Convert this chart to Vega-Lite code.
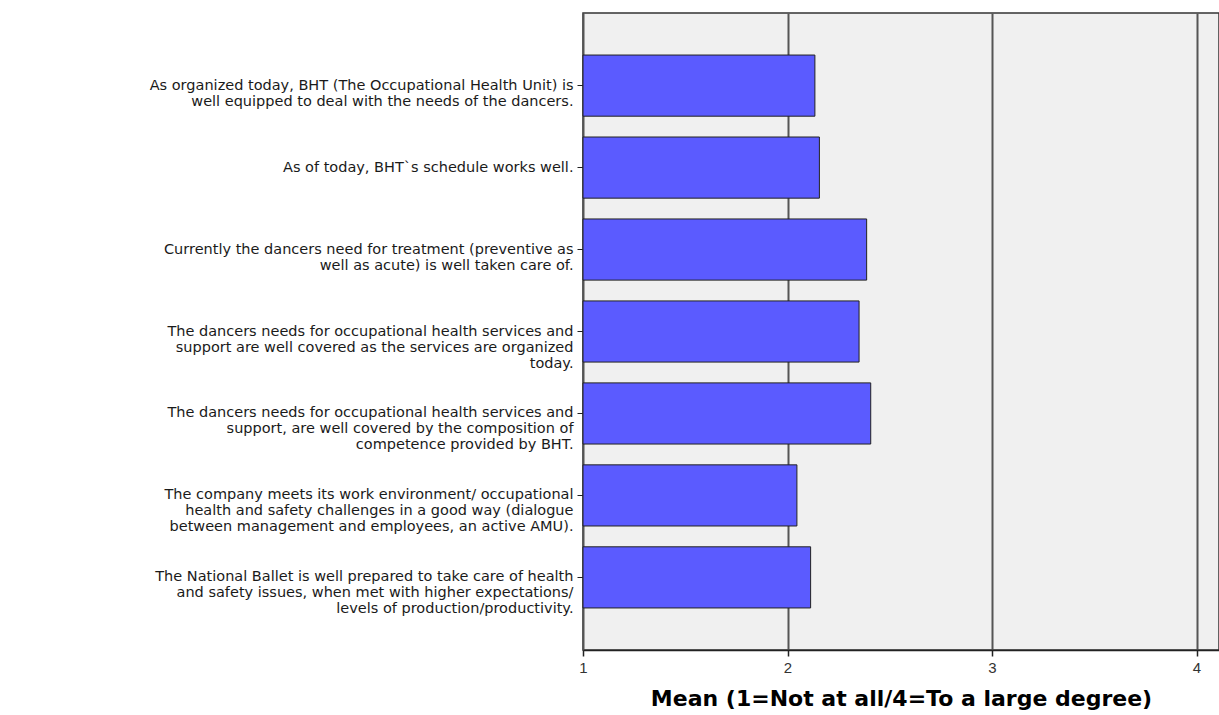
{
  "$schema": "https://vega.github.io/schema/vega-lite/v6.json",
  "autosize": {"type": "none"},
  "width": 636,
  "height": 637,
  "padding": {"left": 583, "top": 13, "right": 0, "bottom": 65},
  "background": "white",
  "config": {
    "view": {"fill": "#f0f0f0", "stroke": "#333333", "strokeWidth": 1.5}
  },
  "data": {
    "values": [
      {"item": "As organized today, BHT (The Occupational Health Unit) is|well equipped to deal with the needs of the dancers.", "mean": 2.134},
      {"item": "As of today, BHT`s schedule works well.", "mean": 2.156},
      {"item": "Currently the dancers need for treatment (preventive as|well as acute) is well taken care of.", "mean": 2.387},
      {"item": "The dancers needs for occupational health services and|support are well covered as the services are organized|today.", "mean": 2.35},
      {"item": "The dancers needs for occupational health services and|support, are well covered by the composition of|competence provided by BHT.", "mean": 2.407},
      {"item": "The company meets its work environment/ occupational|health and safety challenges in a good way (dialogue|between management and employees, an active AMU).", "mean": 2.046},
      {"item": "The National Ballet is well prepared to take care of health|and safety issues, when met with higher expectations/|levels of production/productivity.", "mean": 2.113}
    ]
  },
  "mark": {"type": "bar", "color": "#5b5bff", "stroke": "#222222", "strokeWidth": 1},
  "encoding": {
    "y": {
      "field": "item",
      "type": "nominal",
      "sort": null,
      "scale": {"paddingInner": 0.254, "paddingOuter": 0.513},
      "axis": {
        "title": null,
        "labelExpr": "split(datum.value, '|')",
        "labelFont": "DejaVu Sans",
        "labelFontSize": 14.5,
        "labelLineHeight": 16,
        "labelColor": "#1a1a1a",
        "labelLimit": 700,
        "labelPadding": 4,
        "tickSize": 6,
        "tickColor": "#222222",
        "tickWidth": 1,
        "domain": false,
        "grid": false
      }
    },
    "x": {
      "field": "mean",
      "type": "quantitative",
      "scale": {"domain": [1, 4.11], "nice": false, "zero": false},
      "axis": {
        "title": "Mean (1=Not at all/4=To a large degree)",
        "titleFont": "DejaVu Sans",
        "titleFontWeight": "bold",
        "titleFontSize": 22,
        "titleColor": "#000000",
        "titlePadding": 13,
        "titleAnchor": "middle",
        "values": [1, 2, 3, 4],
        "labelFont": "Liberation Sans",
        "labelFontSize": 15,
        "labelFlush": false,
        "labelColor": "#333333",
        "labelPadding": 4,
        "tickSize": 6,
        "tickColor": "#222222",
        "tickWidth": 1.5,
        "domainColor": "#222222",
        "domainWidth": 1.5,
        "grid": true,
        "gridColor": "#555555",
        "gridWidth": 2
      }
    },
    "x2": {"datum": 1}
  }
}
